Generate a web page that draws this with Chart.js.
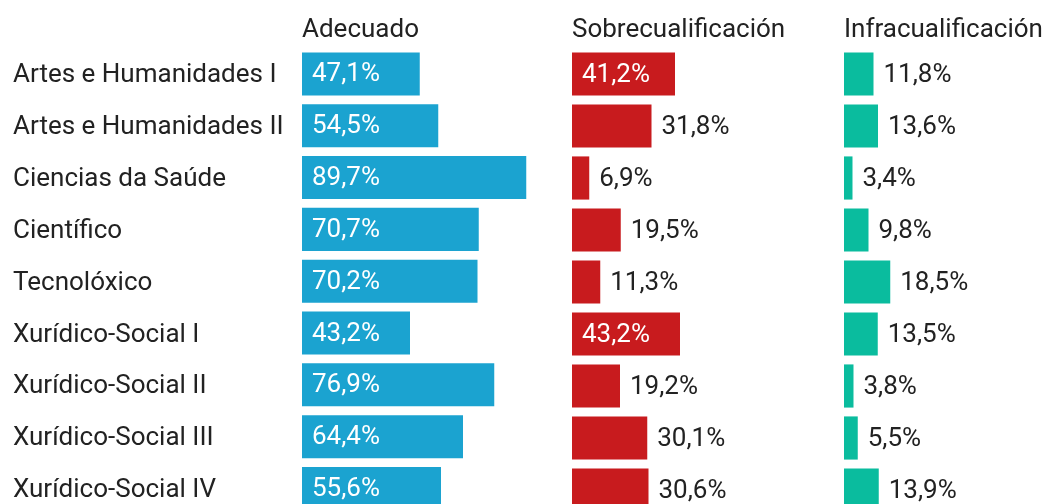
<!DOCTYPE html>
<html>
<head>
<meta charset="utf-8">
<script src="https://cdn.jsdelivr.net/npm/chart.js@4.4.0/dist/chart.umd.min.js"></script>
<style>
  html, body { margin: 0; padding: 0; background: #fff; }
  #wrap { position: relative; width: 1044px; height: 504px; overflow: hidden; }
  .panel { position: absolute; top: 0; height: 530px; }
  .panel canvas { display: block; }
</style>
</head>
<body>
<div id="wrap">
  <div class="panel" style="left:0;width:560px"><canvas id="c1"></canvas></div>
  <div class="panel" style="left:560px;width:272px"><canvas id="c2"></canvas></div>
  <div class="panel" style="left:832px;width:272px"><canvas id="c3"></canvas></div>
</div>
<script>
// --- DATA ---
const categories = [
  'Artes e Humanidades I', 'Artes e Humanidades II', 'Ciencias da Saúde',
  'Científico', 'Tecnolóxico', 'Xurídico-Social I', 'Xurídico-Social II',
  'Xurídico-Social III', 'Xurídico-Social IV'
];
const adecuado = [47.1, 54.5, 89.7, 70.7, 70.2, 43.2, 76.9, 64.4, 55.6];
const sobrecualificacion = [41.2, 31.8, 6.9, 19.5, 11.3, 43.2, 19.2, 30.1, 30.6];
const infracualificacion = [11.8, 13.6, 3.4, 9.8, 18.5, 13.5, 3.8, 5.5, 13.9];
const seriesTitles = ['Adecuado', 'Sobrecualificación', 'Infracualificación'];

const FONT = 'Roboto, "Noto Sans", sans-serif';
const TEXT = '#222';

const fmt = v => v.toFixed(1).replace('.', ',') + '%';

// header + value labels
const labelPlugin = {
  id: 'labels',
  afterDatasetsDraw(chart) {
    const { ctx, chartArea } = chart;
    ctx.save();
    ctx.font = '26px ' + FONT;
    ctx.fillStyle = TEXT;
    ctx.textAlign = 'left';
    ctx.textBaseline = 'alphabetic';
    ctx.fillText(chart.options.plugins.header.text, chartArea.left, 37);

    ctx.textBaseline = 'middle';
    const meta = chart.getDatasetMeta(0);
    const data = chart.data.datasets[0].data;
    meta.data.forEach((bar, i) => {
      const v = data[i];
      if (v >= 35) {
        ctx.fillStyle = '#fff';
        ctx.fillText(fmt(v), bar.base + 10, bar.y + 1);
      } else {
        ctx.fillStyle = TEXT;
        ctx.fillText(fmt(v), bar.x + 10, bar.y + 1);
      }
    });
    ctx.restore();
  }
};

function makeChart(id, values, title, color, showLabels, padLeft, padRight) {
  const ctx = document.getElementById(id).getContext('2d');
  return new Chart(ctx, {
    type: 'bar',
    data: {
      labels: categories,
      datasets: [{
        data: values,
        backgroundColor: color,
        borderWidth: 0,
        barPercentage: 0.83,
        categoryPercentage: 1
      }]
    },
    options: {
      indexAxis: 'y', responsive: true, maintainAspectRatio: false, animation: false,
      layout: { padding: { top: 48, bottom: 14, left: padLeft, right: padRight } },
      plugins: {
        legend: { display: false }, tooltip: { enabled: false },
        header: { text: title }
      },
      scales: {
        x: { display: false, min: 0, max: 100 },
        y: {
          display: showLabels,
          grid: { display: false }, border: { display: false },
          ticks: { color: TEXT, font: { family: FONT, size: 26 }, crossAlign: 'far', padding: 0, labelOffset: 2 },
          afterFit: s => { if (showLabels) s.width = 289; }
        }
      }
    },
    plugins: [labelPlugin]
  });
}

makeChart('c1', adecuado, seriesTitles[0], '#1BA3D0', true, 13, 8);
makeChart('c2', sobrecualificacion, seriesTitles[1], '#C81B1E', false, 12, 10);
makeChart('c3', infracualificacion, seriesTitles[2], '#0ABC9E', false, 12, 10);
</script>
</body>
</html>
